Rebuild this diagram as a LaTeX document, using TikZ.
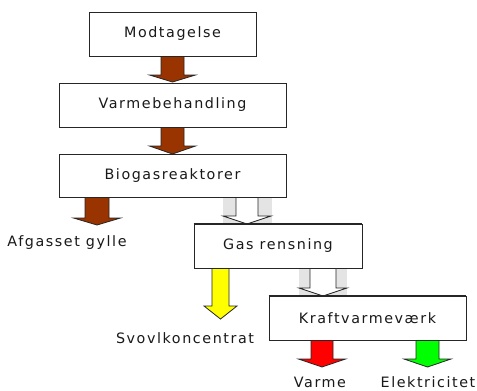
\documentclass[tikz,border=0pt]{standalone}
\usepackage{fontspec}
\setmainfont{DejaVu Sans}[LetterSpace=11]
\definecolor{brn}{HTML}{993300}
\definecolor{ylw}{HTML}{FFFF00}
\definecolor{rd}{HTML}{FF0000}
\definecolor{grn}{HTML}{00FF00}
\definecolor{bgtex}{HTML}{E4E4E4}
\tikzset{
  stage/.style={draw=black!85, line width=0.9pt, fill=white, inner sep=0pt},
  lbl/.style={inner sep=0pt, font=\fontsize{14.3pt}{16pt}\selectfont, text=black!90},
  barrow/.style={draw=black!85, line width=0.8pt, line join=miter},
}
% #1 options, #2 cx, #3 top, #4 head base, #5 tip, #6 shaft half, #7 head half
\newcommand\blockarr[7]{%
  \draw[barrow,#1] (#2-#6,#3) -- (#2+#6,#3) -- (#2+#6,#4) -- (#2+#7,#4) -- (#2,#5) -- (#2-#7,#4) -- (#2-#6,#4) -- cycle;}
\begin{document}
\begin{tikzpicture}[x=1pt,y=-1pt]
\useasboundingbox[fill=white] (0,0) rectangle (477,391);
% boxes
\node[stage, minimum width=167pt, minimum height=44pt, lbl] (b1) at (172.5,34) {Modtagelse};
\node[stage, minimum width=227pt, minimum height=44pt, lbl] (b2) at (172.5,105) {Varmebehandling};
\node[stage, minimum width=227pt, minimum height=43pt, lbl] (b3) at (172.5,175.5) {Biogasreaktorer};
\node[stage, minimum width=168pt, minimum height=44pt, lbl] (b4) at (278,246) {Gas rensning};
\node[stage, minimum width=197pt, minimum height=44pt, lbl] (b5) at (367.5,318) {Kraftvarmeværk};
% labels
\node[lbl] (l1) at (67,243) {Afgasset gylle};
\node[lbl] (l2) at (185,338) {Svovlkoncentrat};
\node[lbl] (l3) at (320,382) {Varme};
\node[lbl] (l4) at (428,382) {Elektricitet};
% arrows
\blockarr{fill=brn}{172.5}{56.5}{75}{82}{11.5}{23}
\blockarr{fill=brn}{172.5}{127.5}{146}{154}{11.5}{23}
\blockarr{fill=brn}{97}{197.5}{218}{225}{12}{23.5}
\fill[bgtex] (223,198) rectangle (272,223);
\blockarr{fill=white}{247}{197.5}{216}{224}{11}{24}
\blockarr{fill=ylw}{220.5}{268.5}{306}{319}{8.5}{16.5}
\fill[bgtex] (299,268.5) rectangle (347,295);
\blockarr{fill=white}{323}{268.5}{288}{296}{13}{24}
\blockarr{fill=rd}{322}{340.5}{359}{367}{11}{23.5}
\blockarr{fill=grn}{427.5}{340.5}{359}{367}{11.5}{23.5}
% redraw box edges over arrows
\draw[draw=black!85, line width=0.9pt] (b4.north west) -- (b4.north east);
\draw[draw=black!85, line width=0.9pt] (b5.north west) -- (b5.north east);
\end{tikzpicture}
\end{document}
